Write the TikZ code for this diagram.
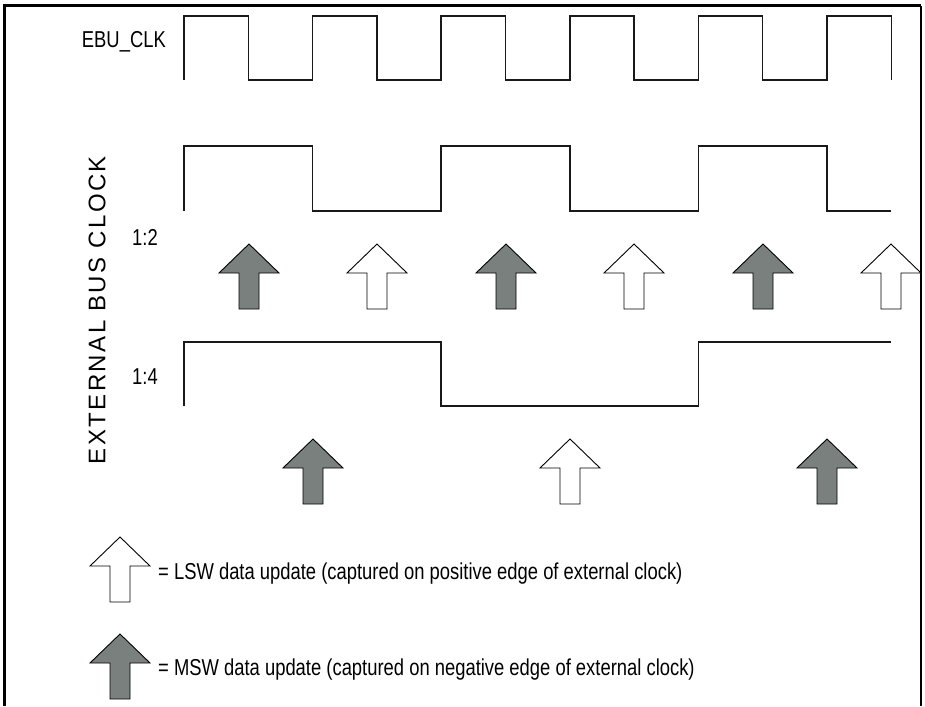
\documentclass[tikz,border=0pt]{standalone}
\usepackage{fontspec}
\setmainfont{Liberation Sans}
\newfontfamily\narrowfont[FakeStretch=0.8]{Liberation Sans}
\newfontfamily\vertfont[LetterSpace=10]{Liberation Sans}
\definecolor{mswgray}{RGB}{122,128,126}
\begin{document}
\begin{tikzpicture}[x=1pt,y=-1pt,
  wave/.style={line width=1.5pt, draw=black!90, line join=miter},
  frameline/.style={line width=3pt, draw=black},
  lbl/.style={font=\narrowfont\fontsize{23}{27}\selectfont, inner sep=0pt},
  upa/.pic={\path[pic actions] (0,0) -- (30,29) -- (10,29) -- (10,65) -- (-10,65) -- (-10,29) -- (-30,29) -- cycle;},
  msw/.style={fill=mswgray, draw=black, line width=0.9pt},
  lsw/.style={fill=white, draw=black, line width=0.9pt}]
\useasboundingbox (0,0) rectangle (925,706);
% frame
\draw[frameline] (4,706) -- (4,6) -- (921,6);
\draw[line width=2.2pt] (921,6) -- (921,706);
% EBU_CLK
\node[lbl, anchor=east] (ebu) at (166,42) {EBU\_CLK};
\draw[wave] (184,80) -- (184,16) -- (248.3,16) -- (248.3,80) -- (312.6,80) -- (312.6,16)
  -- (376.9,16) -- (376.9,80) -- (441.2,80) -- (441.2,16) -- (505.5,16) -- (505.5,80)
  -- (569.8,80) -- (569.8,16) -- (634.1,16) -- (634.1,80) -- (698.4,80) -- (698.4,16)
  -- (762.7,16) -- (762.7,80) -- (827,80) -- (827,16) -- (891.3,16) -- (891.3,80);
% vertical label
\node[font=\vertfont\fontsize{24}{28}\selectfont, rotate=90, inner sep=0pt] (ebc) at (97,310) {EXTERNAL BUS CLOCK};
% 1:2
\node[lbl] (r12) at (145,237) {1:2};
\draw[wave] (184,211) -- (184,146) -- (312.6,146) -- (312.6,211) -- (441.2,211) -- (441.2,146)
  -- (569.8,146) -- (569.8,211) -- (698.4,211) -- (698.4,146) -- (827,146) -- (827,211) -- (891,211);
\pic[msw] at (249,244) {upa};
\pic[lsw] at (377,244) {upa};
\pic[msw] at (506,244) {upa};
\pic[lsw] at (634,244) {upa};
\pic[msw] at (763,244) {upa};
\pic[lsw] at (891,244) {upa};
% 1:4
\node[lbl] (r14) at (145,377) {1:4};
\draw[wave] (184,406) -- (184,342) -- (441.2,342) -- (441.2,406) -- (698.4,406) -- (698.4,342) -- (891,342);
\pic[msw] at (313,439) {upa};
\pic[lsw] at (570,439) {upa};
\pic[msw] at (827,439) {upa};
% legend
\pic[lsw] at (120,537) {upa};
\node[lbl, anchor=west] (lswtext) at (158,574) {= LSW data update (captured on positive edge of external clock)};
\pic[msw] at (120,634) {upa};
\node[lbl, anchor=west] (mswtext) at (158,670) {= MSW data update (captured on negative edge of external clock)};
\end{tikzpicture}
\end{document}
